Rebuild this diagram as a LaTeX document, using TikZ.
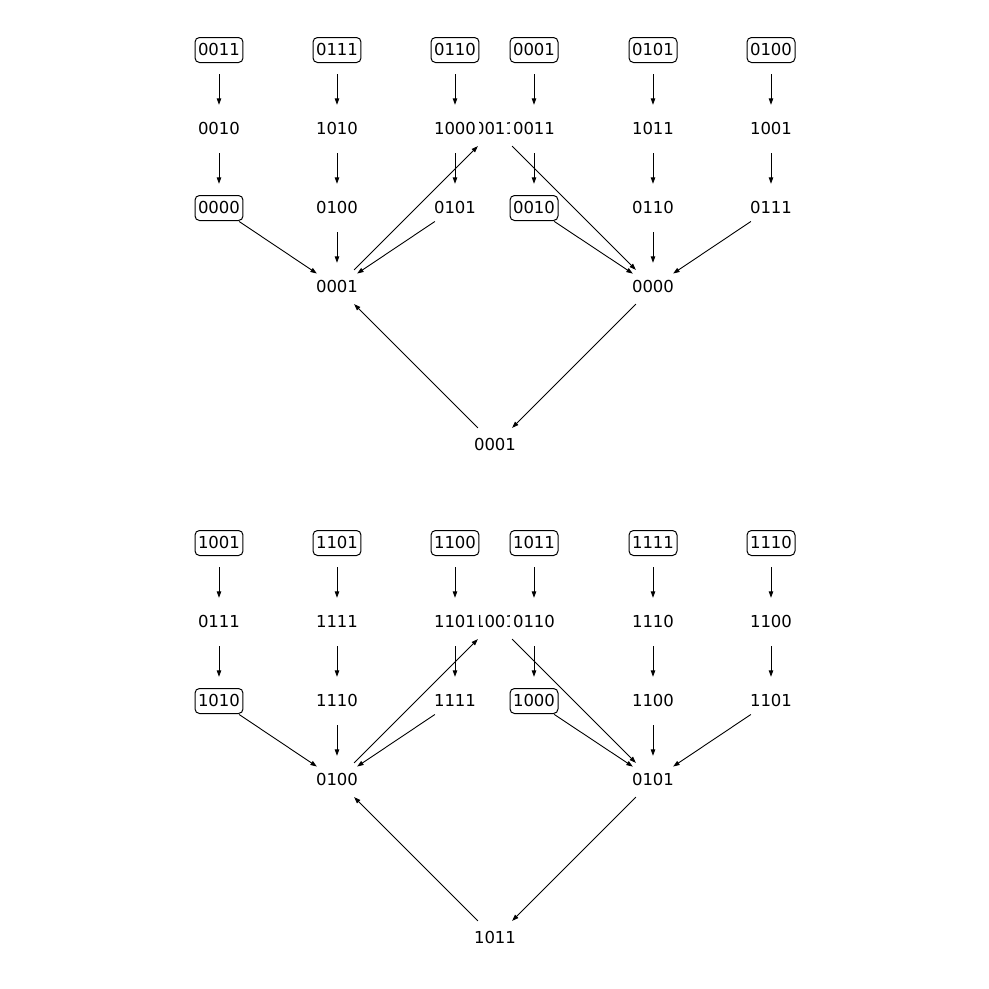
\documentclass[tikz,border=0pt]{standalone}
\usepackage{fontspec}
\setmainfont{DejaVu Sans}
\usetikzlibrary{arrows.meta}
\tikzset{
  vtx/.style={circle,minimum size=48pt,inner sep=0pt,draw=none},
  lbl/.style={fill=white,inner xsep=3pt,inner ysep=6pt,text height=12pt,text depth=1pt,font=\fontsize{16.5}{20}\selectfont},
  boxed/.style={lbl,draw=black,line width=1pt,rounded corners=4.5pt},
  edge/.style={line width=0.9pt,-{Triangle[length=6.5pt,width=4.5pt]}}
}
\begin{document}
\begin{tikzpicture}[x=1pt,y=1pt]
\useasboundingbox (0,0) rectangle (989,-989);
% ---------- top component ----------
\foreach \n/\x/\y in {tA1/219/50,tA2/219/129,tA3/219/208,tB1/337/50,tB2/337/129,tB3/337/208,
  tC1/455/50,tC2/455/129,tC3/455/208,tD1/534/50,tD2/534/129,tD3/534/208,
  tE1/653/50,tE2/653/129,tE3/653/208,tF1/771/50,tF2/771/129,tF3/771/208,
  tL/337/287,tR/653/287,tM/495/129,tRoot/495/445}
  \node[vtx] (\n) at (\x,-\y) {};
\foreach \c in {A,B,C,D,E,F}{
  \draw[edge] (t\c1) -- (t\c2);
  \draw[edge] (t\c2) -- (t\c3);
}
\foreach \c in {A,B,C} \draw[edge] (t\c3) -- (tL);
\foreach \c in {D,E,F} \draw[edge] (t\c3) -- (tR);
\draw[edge] (tL) -- (tM);
\draw[edge] (tM) -- (tR);
\draw[edge] (tR) -- (tRoot);
\draw[edge] (tRoot) -- (tL);
\node[lbl] (ltM) at (tM) {0011};
\node[boxed] (ltA1) at (tA1) {0011};
\node[lbl] (ltA2) at (tA2) {0010};
\node[boxed] (ltA3) at (tA3) {0000};
\node[boxed] (ltB1) at (tB1) {0111};
\node[lbl] (ltB2) at (tB2) {1010};
\node[lbl] (ltB3) at (tB3) {0100};
\node[boxed] (ltC1) at (tC1) {0110};
\node[lbl] (ltC2) at (tC2) {1000};
\node[lbl] (ltC3) at (tC3) {0101};
\node[boxed] (ltD1) at (tD1) {0001};
\node[lbl] (ltD2) at (tD2) {0011};
\node[boxed] (ltD3) at (tD3) {0010};
\node[boxed] (ltE1) at (tE1) {0101};
\node[lbl] (ltE2) at (tE2) {1011};
\node[lbl] (ltE3) at (tE3) {0110};
\node[boxed] (ltF1) at (tF1) {0100};
\node[lbl] (ltF2) at (tF2) {1001};
\node[lbl] (ltF3) at (tF3) {0111};
\node[lbl] (ltL) at (tL) {0001};
\node[lbl] (ltR) at (tR) {0000};
\node[lbl] (ltRoot) at (tRoot) {0001};
% ---------- bottom component ----------
\foreach \n/\x/\y in {bA1/219/543,bA2/219/622,bA3/219/701,bB1/337/543,bB2/337/622,bB3/337/701,
  bC1/455/543,bC2/455/622,bC3/455/701,bD1/534/543,bD2/534/622,bD3/534/701,
  bE1/653/543,bE2/653/622,bE3/653/701,bF1/771/543,bF2/771/622,bF3/771/701,
  bL/337/780,bR/653/780,bM/495/622,bRoot/495/938}
  \node[vtx] (\n) at (\x,-\y) {};
\foreach \c in {A,B,C,D,E,F}{
  \draw[edge] (b\c1) -- (b\c2);
  \draw[edge] (b\c2) -- (b\c3);
}
\foreach \c in {A,B,C} \draw[edge] (b\c3) -- (bL);
\foreach \c in {D,E,F} \draw[edge] (b\c3) -- (bR);
\draw[edge] (bL) -- (bM);
\draw[edge] (bM) -- (bR);
\draw[edge] (bR) -- (bRoot);
\draw[edge] (bRoot) -- (bL);
\node[lbl] (lbM) at (bM) {1001};
\node[boxed] (lbA1) at (bA1) {1001};
\node[lbl] (lbA2) at (bA2) {0111};
\node[boxed] (lbA3) at (bA3) {1010};
\node[boxed] (lbB1) at (bB1) {1101};
\node[lbl] (lbB2) at (bB2) {1111};
\node[lbl] (lbB3) at (bB3) {1110};
\node[boxed] (lbC1) at (bC1) {1100};
\node[lbl] (lbC2) at (bC2) {1101};
\node[lbl] (lbC3) at (bC3) {1111};
\node[boxed] (lbD1) at (bD1) {1011};
\node[lbl] (lbD2) at (bD2) {0110};
\node[boxed] (lbD3) at (bD3) {1000};
\node[boxed] (lbE1) at (bE1) {1111};
\node[lbl] (lbE2) at (bE2) {1110};
\node[lbl] (lbE3) at (bE3) {1100};
\node[boxed] (lbF1) at (bF1) {1110};
\node[lbl] (lbF2) at (bF2) {1100};
\node[lbl] (lbF3) at (bF3) {1101};
\node[lbl] (lbL) at (bL) {0100};
\node[lbl] (lbR) at (bR) {0101};
\node[lbl] (lbRoot) at (bRoot) {1011};
\end{tikzpicture}
\end{document}
